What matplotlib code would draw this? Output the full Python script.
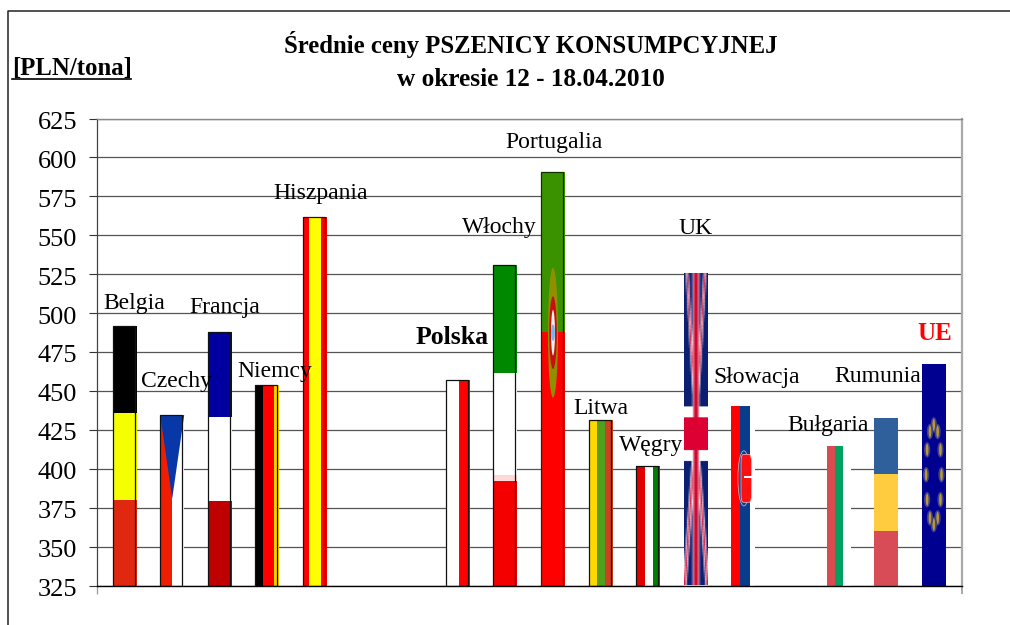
import numpy as np
import matplotlib
matplotlib.use("Agg")
import matplotlib.pyplot as plt
from matplotlib.lines import Line2D
from matplotlib.patches import Ellipse, Polygon, FancyBboxPatch
from matplotlib.transforms import ScaledTranslation

plt.rcParams['font.family'] = ['Liberation Serif', 'DejaVu Serif']

W, H = 1010, 625
categories = ["Belgia", "Czechy", "Francja", "Niemcy", "Hiszpania", "", "", "Polska", "Włochy",
              "Portugalia", "Litwa", "Węgry", "UK", "Słowacja", "", "Bułgaria", "Rumunia", "UE"]
values = [492, 434.5, 487.6, 453.6, 561.7, None, None, 456.8, 530.9,
          590.4, 431.3, 402, 524.9, 440.3, None, 414.6, 432.6, 467.3]
outlined = ["Belgia", "Czechy", "Francja", "Niemcy", "Hiszpania", "Polska", "Włochy",
            "Portugalia", "Litwa", "Węgry"]
outline_colors = {"Hiszpania": "#500000", "Portugalia": "#103000"}
# horizontal stripes: colours top -> bottom, share of bar height
hflags = {
    "Belgia": (["#000000", "#F5FF00", "#E02810"], [0.335, 0.338, 0.327]),
    "Francja": (["#0000A0", "#FFFFFF", "#BE0000"], [0.335, 0.331, 0.334]),
    "Włochy": (["#008800", "#FFFFFF", "#FFD8D8", "#F50000"], [0.337, 0.319, 0.019, 0.325]),
    "Portugalia": (["#3A9200", "#FF0000"], [0.386, 0.614]),
    "Rumunia": (["#30609C", "#FFCC40", "#D84C58"], [0.333, 0.343, 0.324]),
    "UE": (["#000090"], [1.0]),
}
# vertical stripes: colours left -> right, share of bar width
vflags = {
    "Czechy": (["#F01E00", "#FFFFFF"], [0.5, 0.5]),
    "Niemcy": (["#000000", "#FF0000", "#FFD000"], [0.31, 0.47, 0.22]),
    "Hiszpania": (["#FF0000", "#FFFF00", "#FF0000"], [0.25, 0.5, 0.25]),
    "Polska": (["#FFFFFF", "#FF0000"], [0.53, 0.47]),
    "Litwa": (["#FFD800", "#50A020", "#D04020"], [0.34, 0.33, 0.33]),
    "Węgry": (["#E00000", "#FFFFFF", "#008000"], [0.38, 0.34, 0.28]),
    "Słowacja": (["#FF0000", "#0A3C8C", "#FFFFFF"], [0.34, 0.42, 0.24]),
    "Bułgaria": (["#D84C50", "#00A060", "#FFFFFF"], [0.33, 0.37, 0.30]),
}
label_px = {"Belgia": (134, 304), "Czechy": (177, 381), "Francja": (225, 308), "Niemcy": (275, 372),
            "Hiszpania": (321, 193), "Polska": (452, 338), "Włochy": (499, 228), "Portugalia": (554, 142),
            "Litwa": (601, 409), "Węgry": (651, 445), "UK": (696, 228), "Słowacja": (757, 377),
            "Bułgaria": (828, 425), "Rumunia": (878, 376), "UE": (935, 333)}

fig = plt.figure(figsize=(W / 100, H / 100), dpi=100)
L, R, T, B = 97, 961.7, 118.5, 585.5
ax = fig.add_axes([L / W, 1 - B / H, (R - L) / W, (B - T) / H])
STEP = 47.6
X0 = 124.6
ax.set_xlim((L - X0) / STEP, (R - X0) / STEP)
ax.set_ylim(325, 625)
ax.set_yticks(np.arange(325, 626, 25))
ax.set_xticks(ax.get_xlim())
ax.set_xticklabels([])
ax.tick_params(axis='y', length=5.8, width=0.8, color='#333333', labelsize=19, pad=8.6)
ax.tick_params(axis='x', length=5.5, width=1.2, color='#999999')
ax.xaxis.get_major_ticks()[0].tick1line.set_color('#444444')
ax.xaxis.get_major_ticks()[0].tick1line.set_markeredgewidth(0.9)
for lab in ax.get_yticklabels():
    lab.set_transform(lab.get_transform() + ScaledTranslation(0, -2 / 100, fig.dpi_scale_trans))
ax.yaxis.grid(True, color='#555555', lw=0.9, zorder=1)
ax.set_axisbelow(True)
ax.spines['left'].set(color='#444444', lw=0.9)
ax.spines['bottom'].set(color='#000000', lw=1.0)
ax.spines['top'].set(color='#888888', lw=1.0)
ax.spines['right'].set(color='#AAAAAA', lw=1.6)

BW = 24 / STEP  # bar width
BOT = 325


def draw_h(i, v, colors, shares):
    top = v
    for c, s in zip(colors, shares):
        h = (v - BOT) * s
        ax.bar(i, h, width=BW, bottom=top - h, color=c, lw=0, zorder=2)
        top -= h


def draw_v(i, v, colors, shares):
    left = i - BW / 2
    for c, s in zip(colors, shares):
        ax.bar(left, v - BOT, width=BW * s, bottom=BOT, align='edge', color=c, lw=0, zorder=2)
        left += BW * s


def fx(i, f):
    return i - BW / 2 + BW * f


def fy(v, f):
    return v - (v - BOT) * f


for i, (name, v) in enumerate(zip(categories, values)):
    if v is None:
        continue
    if name in hflags:
        draw_h(i, v, *hflags[name])
    elif name in vflags:
        draw_v(i, v, *vflags[name])
    if name == "Czechy":
        ax.add_patch(Polygon([(fx(i, 0), v), (fx(i, 1), v), (fx(i, 0.5), fy(v, 0.49))],
                             fc="#0838A8", ec='none', zorder=3))
    if name == "UK":
        n, m = 400, 128
        vv, uu = np.mgrid[-1:1:n * 1j, -1:1:m * 1j]
        img = np.zeros((n, m, 3)) + np.array([0.05, 0.12, 0.45])
        stretch = np.where(vv < 0, 1.35, 1.05)
        d = np.abs(np.abs(uu) * stretch - np.abs(vv))
        img[d < 0.17] = (1, 1, 1)
        img[d < 0.08] = (0.85, 0.1, 0.25)
        img[np.abs(uu) < 0.28] = (1, 1, 1)
        img[np.abs(vv - 0.03) < 0.175] = (1, 1, 1)
        img[np.abs(uu) < 0.2] = (0.80, 0.05, 0.2)
        img[np.abs(vv - 0.03) < 0.105] = (0.87, 0.0, 0.2)
        # soften the flag horizontally: the picture is squeezed into a narrow bar
        img = img.reshape(n, 16, 8, 3).mean(axis=2)
        ax.imshow(img, extent=(i - BW / 2, i + BW / 2, BOT, v), origin='upper',
                  aspect='auto', interpolation='bilinear', zorder=2)
    if name == "Portugalia":
        cy = fy(v, 0.388)
        for col, rx, ry in [("#8F9000", 0.21, 0.157), ("#C81010", 0.16, 0.088),
                            ("#F8F0F0", 0.08, 0.055), ("#70B8F0", 0.08, 0.02)]:
            ax.add_patch(Ellipse((i, cy), BW * rx * 2, (v - BOT) * ry * 2, fc=col, ec='none', zorder=3))
    if name == "Słowacja":
        cy = fy(v, 0.403)
        hh = (v - BOT) * 0.29
        ax.add_patch(Ellipse((fx(i, 0.52), cy), BW * 0.50, hh * 1.06, fc="none",
                             ec='#C0A8C8', lw=0.6, zorder=3))
        ax.add_patch(FancyBboxPatch((fx(i, 0.40), cy - hh * 0.46), BW * 0.44, hh * 0.92,
                                    boxstyle="round,pad=0,rounding_size=0.05", mutation_aspect=hh / 0.3,
                                    fc="#FF1010", ec='#F8C0C0', lw=0.5, zorder=4))
        ax.bar(fx(i, 0.52), (v - BOT) * 0.015, width=BW * 0.32, bottom=cy, align='edge',
               color='#FFFFFF', lw=0, zorder=5)
    if name == "UE":
        cy = fy(v, 0.5)
        for a in np.deg2rad(np.arange(0, 360, 30)):
            px_ = i + BW * 0.32 * np.sin(a)
            py_ = cy + (v - BOT) * 0.225 * np.cos(a)
            ax.add_patch(Ellipse((px_, py_), BW * 0.26, (v - BOT) * 0.07, fc="#40408C", ec='none', zorder=3))
            ax.add_patch(Ellipse((px_, py_), BW * 0.11, (v - BOT) * 0.055, fc="#B89A30", ec='none', zorder=3))
    if name in outlined:
        ax.bar(i - 1 / STEP, v - BOT, width=22 / STEP, bottom=BOT, fc='none',
               ec=outline_colors.get(name, '#111111'), lw=0.9, zorder=6)

ax.set_xlim((L - X0) / STEP, (R - X0) / STEP)
ax.set_ylim(325, 625)

for name, (px, py) in label_px.items():
    kw = dict(fontsize=17, color='black')
    if name == "Polska":
        kw = dict(fontsize=18.5, color='black', fontweight='bold')
    if name == "UE":
        kw = dict(fontsize=18, color='#FF0000', fontweight='bold')
    fig.text(px / W, 1 - py / H, name, ha='center', va='center', zorder=6, **kw)

fig.text(531 / W, 1 - 45 / H, "Średnie ceny PSZENICY KONSUMPCYJNEJ", ha='center', va='center',
         fontsize=17.8, fontweight='bold')
fig.text(531 / W, 1 - 79 / H, "w okresie 12 - 18.04.2010", ha='center', va='center',
         fontsize=18.2, fontweight='bold')
fig.text(12 / W, 1 - 68 / H, "[PLN/tona]", ha='left', va='center', fontsize=17.8, fontweight='bold')
fig.add_artist(Line2D([12 / W, 130.5 / W], [1 - 79 / H] * 2, color='black', lw=1.2))
fig.add_artist(Line2D([8 / W, 8 / W, 1], [0, 1 - 11 / H, 1 - 11 / H], color='#222222', lw=1.1))

fig.savefig("out.png", dpi=100, facecolor='white')
